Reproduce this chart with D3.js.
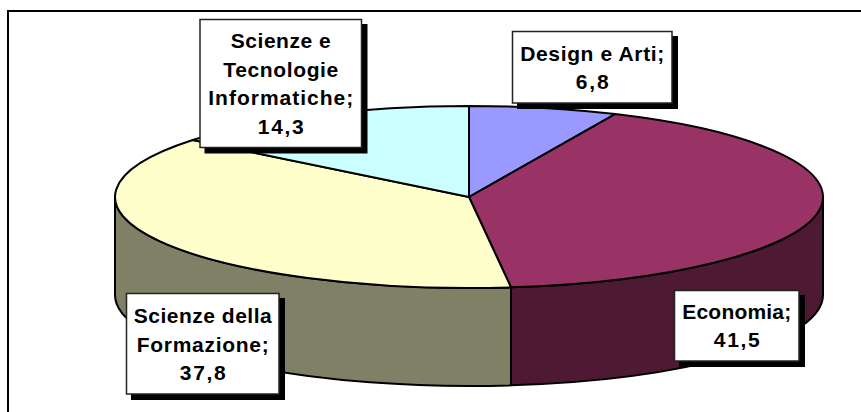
<!DOCTYPE html>
<html><head><meta charset="utf-8">
<script src="https://cdnjs.cloudflare.com/ajax/libs/d3/7.8.5/d3.min.js"></script>
<style>html,body{margin:0;padding:0;background:#fff}svg{display:block}text{font-family:"Liberation Sans",sans-serif;font-weight:700;font-size:21px;fill:#000;text-anchor:middle}</style>
</head><body><script>
const categories=["Design e Arti","Economia","Scienze della Formazione","Scienze e Tecnologie Informatiche"];
const values=[6.8,41.5,37.8,14.3];
const topColors=["#9999ff","#993366","#ffffcc","#ccffff"];
const sideColors=["#4d4d80","#4d1933","#808066","#668080"];
const labelLines=[["Design e Arti;","6,8"],["Economia;","41,5"],["Scienze della","Formazione;","37,8"],["Scienze e","Tecnologie","Informatiche;","14,3"]];
const labelBoxes=[[512.5,31.5,672,103],[674.5,290.5,799,361],[126.5,293.5,279,394],[200,19.5,361.5,147.5]];
const labelBaselines=[[61,89],[319,347],[323,352,380],[48,77,105,134]];
const labelWidths=[[144,33],[109,46],[138,132,46],[100,115,145,46]];

const W=861,H=412,cx=469,cy=197,rx=354,ry=91,depth=98;
const svg=d3.select("body").append("svg").attr("width",W).attr("height",H);
const px=d3.scaleLinear().domain([-1,1]).range([cx-rx,cx+rx]);
const py=d3.scaleLinear().domain([-1,1]).range([cy-ry,cy+ry]);
const pie=d3.pie().sort(null).value(d=>d).startAngle(0).endAngle(2*Math.PI);
const arcs=pie(values);

// frame: only the top and left rules are visible
svg.append("path").attr("d",`M8,${H}V11H${W}`).attr("fill","none").attr("stroke","#000").attr("stroke-width",2);

// walls of the near half of the disc
const wall=(a0,a1)=>{
  const x0=px(Math.sin(a0)),y0=py(-Math.cos(a0)),x1=px(Math.sin(a1)),y1=py(-Math.cos(a1));
  return `M${x0},${y0}A${rx},${ry} 0 0 1 ${x1},${y1}V${y1+depth}A${rx},${ry} 0 0 0 ${x0},${y0+depth}Z`;
};
svg.append("g").selectAll("path")
  .data(arcs.filter(a=>a.endAngle>Math.PI/2&&a.startAngle<1.5*Math.PI))
  .join("path")
  .attr("d",a=>wall(Math.max(a.startAngle,Math.PI/2),Math.min(a.endAngle,1.5*Math.PI)))
  .attr("fill",a=>sideColors[a.index])
  .attr("stroke","#000").attr("stroke-width",2).attr("stroke-linejoin","round");

// top face: a circular arc squashed to the ellipse
const arc=d3.arc().innerRadius(0).outerRadius(rx);
svg.append("g").attr("transform",`translate(${cx},${cy}) scale(1,${ry/rx})`)
  .selectAll("path").data(arcs).join("path")
  .attr("d",arc)
  .attr("fill",a=>topColors[a.index])
  .attr("stroke","#000").attr("stroke-width",2).attr("stroke-linejoin","round")
  .attr("vector-effect","non-scaling-stroke");

// data labels
const g=svg.append("g").selectAll("g").data(categories).join("g");
g.append("rect").attr("x",(d,i)=>labelBoxes[i][0]+5).attr("y",(d,i)=>labelBoxes[i][1]+5)
  .attr("width",(d,i)=>labelBoxes[i][2]-labelBoxes[i][0]+0.5).attr("height",(d,i)=>labelBoxes[i][3]-labelBoxes[i][1]+0.5).attr("fill","#000").attr("stroke","#000");
g.append("rect").attr("x",(d,i)=>labelBoxes[i][0]).attr("y",(d,i)=>labelBoxes[i][1])
  .attr("width",(d,i)=>labelBoxes[i][2]-labelBoxes[i][0]).attr("height",(d,i)=>labelBoxes[i][3]-labelBoxes[i][1])
  .attr("fill","#fff").attr("stroke","#222").attr("stroke-width",1.5);
g.each(function(d,i){
  const b=labelBoxes[i],mid=(b[0]+b[2])/2;
  d3.select(this).selectAll("text").data(labelLines[i]).join("text")
    .attr("x",mid).attr("y",(t,j)=>labelBaselines[i][j])
    .attr("textLength",(t,j)=>labelWidths[i][j]).attr("lengthAdjust","spacing")
    .text(t=>t);
});
</script></body></html>
